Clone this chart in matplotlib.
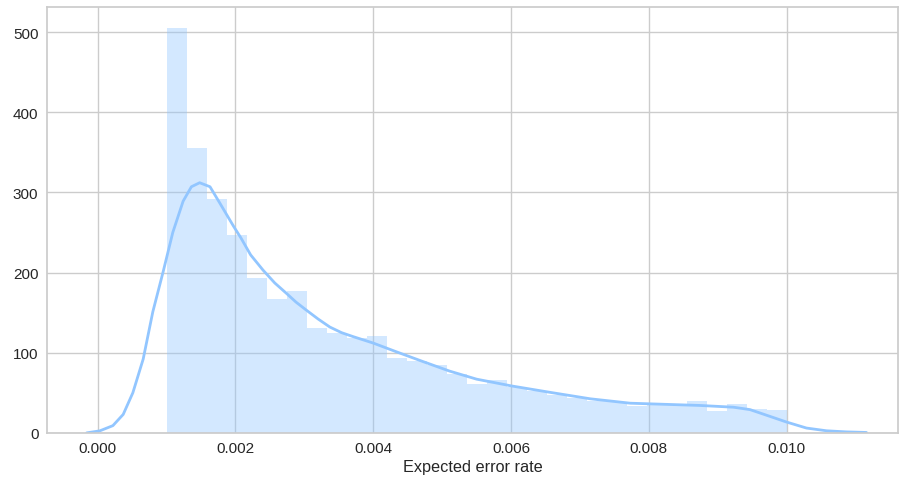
"""Expected error rate distribution: histogram + KDE."""

import numpy as np
import matplotlib
matplotlib.use("Agg")
import matplotlib.pyplot as plt
import seaborn as sns

# histogram (density), 31 equal bins from 0.001 to 0.010
bin_low = 0.001
bin_high = 0.010
hist_density = [505, 355, 292, 247, 193, 167, 177, 131, 124, 118, 121,
                93, 90, 85, 73, 61, 66, 57, 52, 47, 43, 40, 38, 34,
                36, 36, 40, 27, 36, 30, 28]

# kde curve
kde_x = [-0.00016, 0.00003, 0.00022, 0.00037, 0.00051, 0.00066, 0.0008,
         0.00095, 0.00109, 0.00124, 0.00136, 0.00148, 0.00163, 0.00177,
         0.00197, 0.00208, 0.00222, 0.0024, 0.00257, 0.00274, 0.00288,
         0.00303, 0.0032, 0.00337, 0.00354, 0.00371, 0.004, 0.00434,
         0.00472, 0.00511, 0.0055, 0.00601, 0.00657, 0.00715, 0.00773,
         0.00874, 0.00923, 0.00947, 0.00971, 0.01, 0.01029, 0.01058,
         0.01087, 0.01116]
kde_y = [0, 2.5, 9, 23, 50, 92, 151, 201, 250, 289, 307, 312, 307, 287,
         258, 243, 222, 203, 187, 174, 163, 153, 142, 132, 125, 120, 112,
         101, 89, 77, 67, 58.5, 50.5, 42.5, 37, 34.2, 32, 29, 22, 13.5, 6,
         2.6, 1.2, 0.5]

x_ticks = [0.000, 0.002, 0.004, 0.006, 0.008, 0.010]
y_ticks = [0, 100, 200, 300, 400, 500]
line_color = "#92C6FF"


def main() -> None:
    sns.set_theme(style="whitegrid")
    plt.rcParams["font.family"] = ["Liberation Sans", "DejaVu Sans"]

    fig = plt.figure(figsize=(8.99, 4.81), dpi=100)
    ax = fig.add_axes([0.052, 0.098, 0.947, 0.885])

    edges = np.linspace(bin_low, bin_high, len(hist_density) + 1)
    ax.bar(edges[:-1], hist_density, width=np.diff(edges), align="edge",
           color=line_color, alpha=0.4, linewidth=0)
    ax.plot(kde_x, kde_y, color=line_color, linewidth=2,
            solid_joinstyle="round")

    ax.set_xlim(-0.00074, 0.01162)
    ax.set_ylim(0, 531)
    ax.set_xticks(x_ticks)
    ax.set_xticklabels([f"{t:.3f}" for t in x_ticks])
    ax.set_yticks(y_ticks)
    ax.tick_params(labelsize=11, colors="#262626", length=0, pad=6)
    ax.set_xlabel("Expected error rate", fontsize=11.7, color="#262626",
                  labelpad=3)
    for s in ax.spines.values():
        s.set_color("#cccccc")

    fig.savefig("out.png", dpi=100)


if __name__ == "__main__":
    main()
